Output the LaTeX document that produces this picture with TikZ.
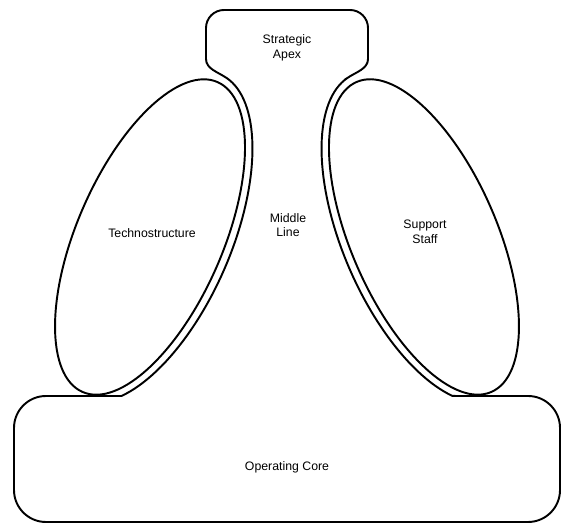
\documentclass[tikz,border=0pt]{standalone}
\usepackage{fontspec}
\setsansfont{Liberation Sans}
\usepackage{tikz}
\usetikzlibrary{calc}

\begin{document}
\begin{tikzpicture}[x=.02cm,y=.02cm,line width=1.1pt,
	part/.style={font=\sffamily\fontsize{7}{8.4}\selectfont,align=center}]
	 \useasboundingbox(0,0)rectangle(567,526);
	 \coordinate(L)at(150,289);\coordinate(R)at(424,289);
	 % outline of apex, middle line and operating core
	 \draw(121.5,130)--plot[domain=-152.6:-5,samples=60]({150+70.57*cos(\x)-74.29*sin(\x)},{289+162.33*cos(\x)+32.29*sin(\x)})
	  ..controls(218,454)and(206,457)..(206,467)--(206,498)arc[start angle=180,end angle=90,radius=18]
	  --(350,516)arc[start angle=90,end angle=0,radius=18]--(368,467)
	  ..controls(368,457)and(356,454)..(347.2,447.9)
	  --plot[domain=5:152.6,samples=60]({424-70.57*cos(\x)-74.29*sin(\x)},{289+162.33*cos(\x)-32.29*sin(\x)})
	  --(528,130)arc[start angle=90,end angle=0,radius=32]--(560,36)arc[start angle=0,end angle=-90,radius=32]
	  --(46,4)arc[start angle=270,end angle=180,radius=32]--(14,98)arc[start angle=180,end angle=90,radius=32]--cycle;
	 % staff parts
	 \draw[rotate around={66.5:(L)}](L)ellipse[x radius=169,y radius=73];
	 \draw[rotate around={-66.5:(R)}](R)ellipse[x radius=169,y radius=73];
	 \node[part](apex)at(287,478){Strategic\\Apex};
	 \node[part](mid)at(288,301){Middle\\Line};
	 \node[part](tech)at(152,293){Technostructure};
	 \node[part](supp)at(425,294){Support\\Staff};
	 \node[part](core)at(287,59){Operating Core};
	\end{tikzpicture}
\end{document}
